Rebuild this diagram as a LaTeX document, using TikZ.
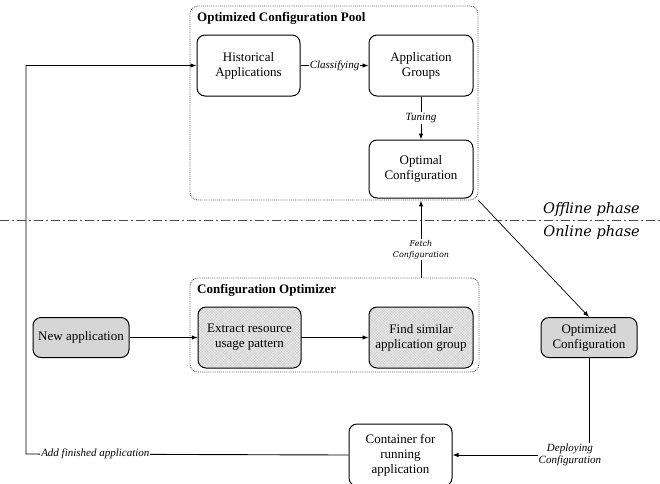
\documentclass[tikz,border=0pt]{standalone}
\usepackage{fontspec}
\setmainfont{Liberation Serif}
\newfontfamily\phasefont{DejaVu Serif}
\usetikzlibrary{arrows.meta,patterns.meta}

\tikzset{
  box/.style={draw, line width=1pt, rounded corners=8pt, align=center,
    font=\fontsize{13}{15}\selectfont, inner sep=2pt},
  graybox/.style={box, fill=black!16},
  hatchbox/.style={box, preaction={fill=black!7},
    pattern={Hatch[angle=45,distance=2pt,line width=0.3pt]}, pattern color=black!22},
  groupbox/.style={draw=black!65, densely dotted, line width=0.9pt, rounded corners=8pt},
  grouptitle/.style={font=\bfseries\fontsize{13}{15}\selectfont, anchor=north west, inner sep=0pt},
  phaselabel/.style={font=\phasefont\itshape\fontsize{14.5}{16}\selectfont, anchor=base east, inner sep=0pt},
  flow/.style={-{Latex[length=6pt,width=4.5pt]}, line width=0.9pt},
  flowlabel/.style={font=\itshape\fontsize{11}{12}\selectfont, fill=white, inner sep=1pt, align=center},
}

\begin{document}
\begin{tikzpicture}[x=1pt, y=-1pt]
    \useasboundingbox (0,0) rectangle (660,483);

    % Offline part: configuration pool
    \node[groupbox, minimum width=288pt, minimum height=194pt] (pool) at (334,103) {};
    \node[grouptitle] (pooltitle) at (197,12) {Optimized Configuration Pool};
    \node[box, minimum width=103pt, minimum height=61pt] (hist) at (248.5,65.5) {Historical\\Applications};
    \node[box, minimum width=104pt, minimum height=61pt] (groups) at (421,65.5) {Application\\Groups};
    \node[box, minimum width=104pt, minimum height=58pt] (optimal) at (421,169) {Optimal\\Configuration};
    \draw[flow] (hist) -- node[flowlabel] {Classifying} (groups);
    \draw[flow] (groups) -- node[flowlabel] {Tuning} (optimal);

    % Phase separator
    \coordinate (sepleft) at (0,220);
    \coordinate (sepright) at (660,220);
    \draw[black!70, line width=0.8pt, dash pattern=on 9pt off 3pt on 2pt off 3pt] (sepleft) -- (sepright);
    \node[phaselabel] (offline) at (640,213) {Offline phase};
    \node[phaselabel] (online) at (640,236) {Online phase};

    % Online part: configuration optimizer
    \node[groupbox, minimum width=289pt, minimum height=94pt] (optim) at (334.5,325) {};
    \node[grouptitle] (optimtitle) at (197,284) {Configuration Optimizer};
    \node[graybox, minimum width=96pt, minimum height=40pt] (newapp) at (81,337.5) {New application};
    \node[hatchbox, minimum width=103pt, minimum height=61pt] (extract) at (249.5,337.5) {Extract resource\\usage pattern};
    \node[hatchbox, minimum width=104pt, minimum height=61pt] (similar) at (421,337.5) {Find similar\\application group};
    \node[graybox, minimum width=96pt, minimum height=40pt] (optconf) at (589,337.5) {Optimized\\Configuration};
    \node[box, fill=white, minimum width=103pt, minimum height=62pt] (container) at (400.5,455) {Container for\\running\\application};
    \coordinate (loop) at (26,454);

    \draw[flow] (newapp) -- (extract);
    \draw[flow] (extract) -- (similar);
    \draw[flow] (optim.north -| similar) -- node[flowlabel, pos=0.36, font=\phasefont\itshape\fontsize{8}{11}\selectfont] {Fetch\\Configuration} (pool.south -| similar);
    \draw[flow, line width=0.7pt] (pool.south east) -- (optconf.north);
    \draw[flow] (optconf.south) |- node[flowlabel, pos=0.57] {Deploying\\Configuration} (container.east);
    \draw[flow] (container.west) -- node[flowlabel, pos=0.785] {Add finished application} (loop) |- (hist.west);
\end{tikzpicture}
\end{document}
